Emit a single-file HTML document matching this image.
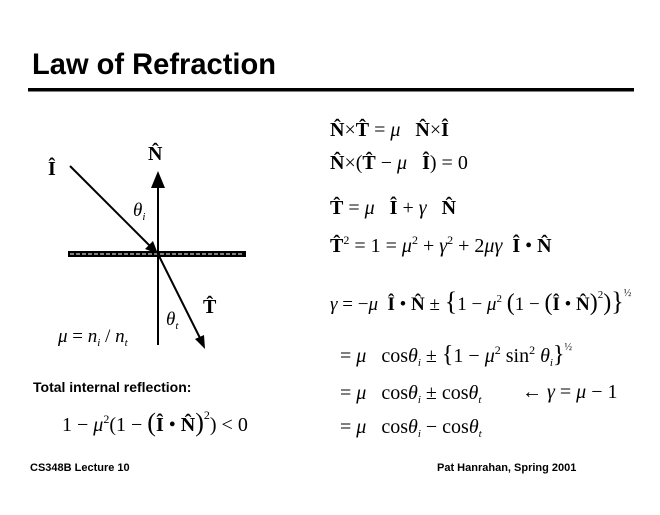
<!DOCTYPE html>
<html><head><style>
body{margin:0;background:#fff;width:660px;height:510px;overflow:hidden}
svg text{font-family:"Liberation Sans",serif;fill:#000;white-space:pre}
svg g text, .m{font-family:"Liberation Serif",serif}
.s{font-family:"Liberation Sans",sans-serif;font-weight:bold}
</style></head><body>
<svg width="660" height="510" xmlns="http://www.w3.org/2000/svg">
<text x="32" y="74" class="s" font-size="30" textLength="244" lengthAdjust="spacingAndGlyphs">Law of Refraction</text>
<rect x="28" y="88" width="606" height="3.5" fill="#000"/>
<!-- diagram -->
<rect x="68" y="251" width="178" height="6" fill="#000"/>
<line x1="70" y1="254" x2="244" y2="254" stroke="#fff" stroke-width="1" stroke-dasharray="4,2"/>
<line x1="158" y1="345" x2="158" y2="185" stroke="#000" stroke-width="2"/>
<polygon points="158,171 151,188 165,188" fill="#000"/>
<line x1="70" y1="166" x2="152" y2="248" stroke="#000" stroke-width="2"/>
<polygon points="158,254 145,249 153,241" fill="#000"/>
<line x1="158" y1="254" x2="200" y2="338" stroke="#000" stroke-width="2"/>
<polygon points="205,349 195,339 204,335" fill="#000"/>
<g>
<text x="48" y="175" font-size="20" font-weight="bold">Î</text>
<text x="148" y="160" font-size="20" font-weight="bold">N̂</text>
<text x="133" y="216" font-size="19" font-style="italic">θ<tspan font-size="11" dy="4">i</tspan></text>
<text x="203" y="313" font-size="20" font-weight="bold">T̂</text>
<text x="166" y="325" font-size="19" font-style="italic">θ<tspan font-size="11" dy="4">t</tspan></text>
<text x="58" y="342" font-size="19"><tspan font-style="italic">μ</tspan> = <tspan font-style="italic">n</tspan><tspan font-size="11" dy="4" font-style="italic">i</tspan><tspan dy="-4"> / </tspan><tspan font-style="italic">n</tspan><tspan font-size="11" dy="4" font-style="italic">t</tspan></text>
</g>
<!-- equations -->
<g font-size="20">
<text x="330" y="136"><tspan font-weight="bold">N̂</tspan>×<tspan font-weight="bold">T̂</tspan> = <tspan font-style="italic">μ</tspan>   <tspan font-weight="bold">N̂</tspan>×<tspan font-weight="bold">Î</tspan></text>
<text x="330" y="169"><tspan font-weight="bold">N̂</tspan>×(<tspan font-weight="bold">T̂</tspan> − <tspan font-style="italic">μ</tspan>   <tspan font-weight="bold">Î</tspan>) = 0</text>
<text x="330" y="214"><tspan font-weight="bold">T̂</tspan> = <tspan font-style="italic">μ</tspan>   <tspan font-weight="bold">Î</tspan> + <tspan font-style="italic">γ</tspan>   <tspan font-weight="bold">N̂</tspan></text>
<text x="330" y="252"><tspan font-weight="bold">T̂</tspan><tspan font-size="12" dy="-8">2</tspan><tspan dy="8"> = 1 = </tspan><tspan font-style="italic">μ</tspan><tspan font-size="12" dy="-8">2</tspan><tspan dy="8"> + </tspan><tspan font-style="italic">γ</tspan><tspan font-size="12" dy="-8">2</tspan><tspan dy="8"> + 2</tspan><tspan font-style="italic">μγ</tspan>  <tspan font-weight="bold">Î</tspan> • <tspan font-weight="bold">N̂</tspan></text>
<text x="330" y="310" font-size="19"><tspan font-style="italic">γ</tspan> = −<tspan font-style="italic">μ</tspan>  <tspan font-weight="bold">Î</tspan> • <tspan font-weight="bold">N̂</tspan> ± <tspan font-size="26">{</tspan>1 − <tspan font-style="italic">μ</tspan><tspan font-size="11" dy="-8">2</tspan><tspan dy="8"> </tspan><tspan font-size="24">(</tspan>1 − <tspan font-size="24">(</tspan><tspan font-weight="bold">Î</tspan> • <tspan font-weight="bold">N̂</tspan><tspan font-size="24">)</tspan><tspan font-size="11" dy="-12">2</tspan><tspan font-size="24" dy="12">)</tspan><tspan font-size="26">}</tspan><tspan font-size="10" dy="-14">½</tspan></text>
<text x="340" y="362">= <tspan font-style="italic">μ</tspan>   cos<tspan font-style="italic">θ</tspan><tspan font-size="11" dy="4" font-style="italic">i</tspan><tspan dy="-4"> ± </tspan><tspan font-size="24">{</tspan>1 − <tspan font-style="italic">μ</tspan><tspan font-size="12" dy="-8">2</tspan><tspan dy="8"> sin</tspan><tspan font-size="12" dy="-8">2</tspan><tspan dy="8" font-style="italic"> θ</tspan><tspan font-size="11" dy="4" font-style="italic">i</tspan><tspan font-size="24" dy="-4">}</tspan><tspan font-size="10" dy="-12">½</tspan></text>
<text x="340" y="399">= <tspan font-style="italic">μ</tspan>   cos<tspan font-style="italic">θ</tspan><tspan font-size="11" dy="4" font-style="italic">i</tspan><tspan dy="-4"> ± cos</tspan><tspan font-style="italic">θ</tspan><tspan font-size="11" dy="4" font-style="italic">t</tspan></text>
<text x="522" y="398">← <tspan font-style="italic">γ</tspan> = <tspan font-style="italic">μ</tspan> − 1</text>
<text x="340" y="433">= <tspan font-style="italic">μ</tspan>   cos<tspan font-style="italic">θ</tspan><tspan font-size="11" dy="4" font-style="italic">i</tspan><tspan dy="-4"> − cos</tspan><tspan font-style="italic">θ</tspan><tspan font-size="11" dy="4" font-style="italic">t</tspan></text>
<text x="62" y="431">1 − <tspan font-style="italic">μ</tspan><tspan font-size="12" dy="-8">2</tspan><tspan dy="8">(1 − </tspan><tspan font-size="26">(</tspan><tspan font-weight="bold">Î</tspan> • <tspan font-weight="bold">N̂</tspan><tspan font-size="26">)</tspan><tspan font-size="12" dy="-12">2</tspan><tspan dy="12">) &lt; 0</tspan></text>
</g>
<text x="33" y="392" class="s" font-size="14">Total internal reflection:</text>
<text x="30" y="471" class="s" font-size="11">CS348B Lecture 10</text>
<text x="437" y="471" class="s" font-size="11">Pat Hanrahan, Spring 2001</text>
</svg>
</body></html>
